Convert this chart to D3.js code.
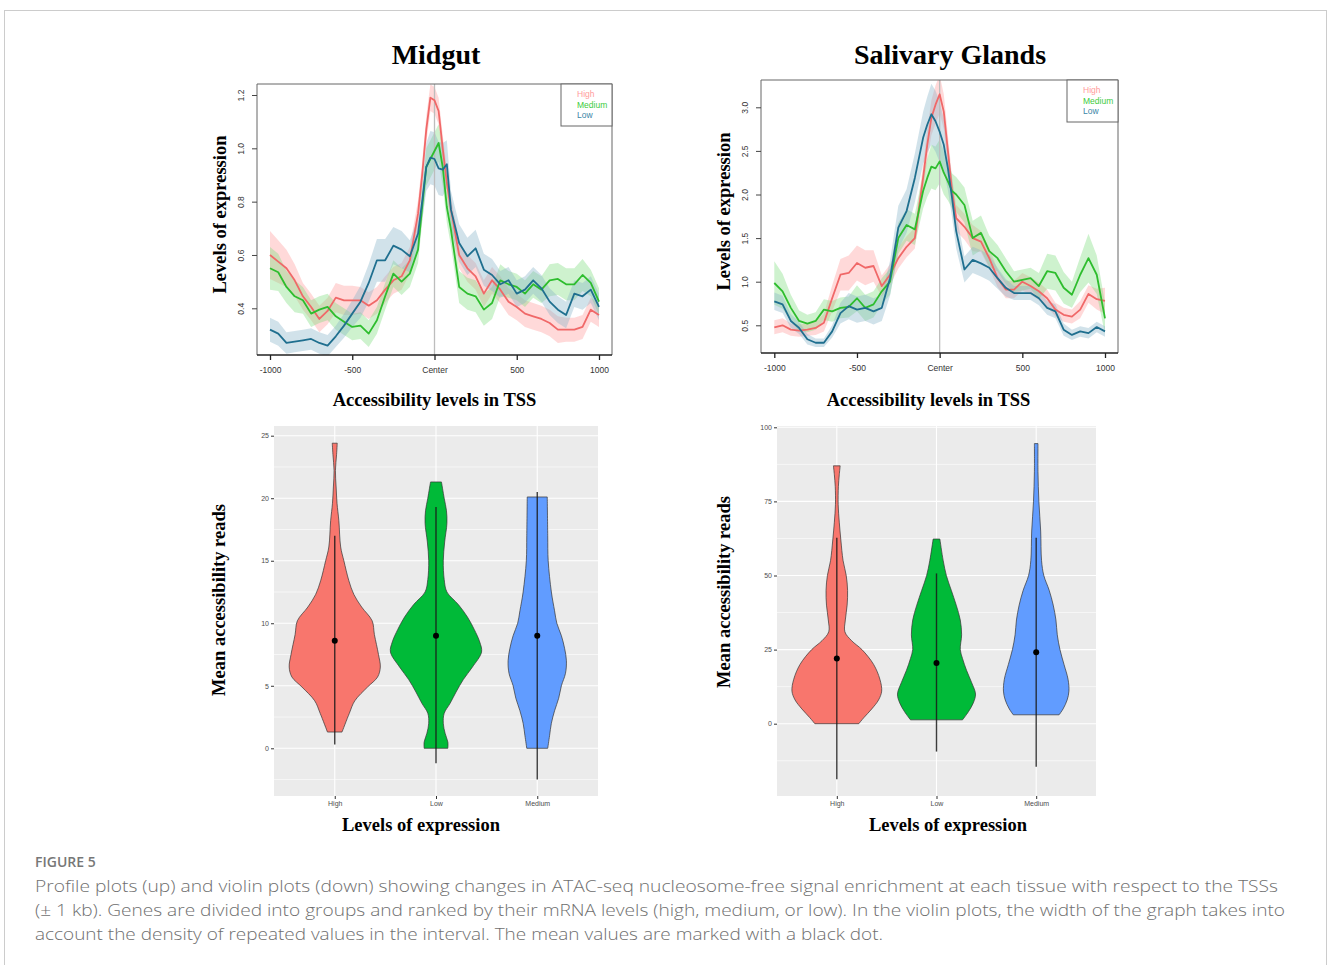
<!DOCTYPE html>
<html>
<head>
<meta charset="utf-8">
<script src="https://cdn.jsdelivr.net/npm/d3@7"></script>
<style>
  body { margin: 0; background: #fff; }
  svg { display: block; }
</style>
</head>
<body>
<svg id="fig" width="1328" height="965"></svg>
<script>
// ---- profile plots: positions relative to the TSS (bp)
const positions = [-1000,-950,-900,-850,-800,-750,-700,-650,-600,-550,-500,-450,-400,-350,-300,-250,-200,-150,-100,-75,-50,-25,0,25,50,75,100,150,200,250,300,350,400,450,500,550,600,650,700,750,800,850,900,950,1000]
const groups = ['High', 'Medium', 'Low']
const xTickValues = [-1000, -500, 0, 500, 1000]
const xTickLabels = ['-1000', '-500', 'Center', '500', '1000']

// Midgut
const midgutHigh = [0.60,0.575,0.55,0.505,0.445,0.405,0.36,0.39,0.44,0.43,0.43,0.43,0.41,0.43,0.47,0.505,0.52,0.58,0.755,0.90,1.07,1.19,1.18,1.14,1.0,0.87,0.77,0.60,0.55,0.52,0.455,0.505,0.47,0.425,0.405,0.38,0.37,0.36,0.345,0.32,0.32,0.32,0.33,0.395,0.375]
const midgutMedium = [0.55,0.535,0.48,0.445,0.43,0.38,0.395,0.405,0.37,0.35,0.33,0.335,0.305,0.355,0.445,0.53,0.50,0.53,0.62,0.78,0.93,0.96,0.99,1.02,0.93,0.78,0.695,0.48,0.455,0.445,0.395,0.42,0.505,0.49,0.48,0.455,0.49,0.47,0.505,0.51,0.49,0.49,0.525,0.495,0.425]
const midgutLow = [0.32,0.305,0.27,0.275,0.28,0.285,0.27,0.26,0.295,0.335,0.38,0.425,0.495,0.58,0.58,0.635,0.62,0.595,0.68,0.80,0.93,0.965,0.96,0.925,0.92,0.94,0.77,0.645,0.595,0.625,0.545,0.525,0.49,0.505,0.455,0.47,0.505,0.475,0.425,0.395,0.375,0.455,0.445,0.47,0.405]
const midgutHighSpread = [0.09,0.08,0.07,0.06,0.05,0.05,0.05,0.05,0.055,0.055,0.055,0.05,0.05,0.05,0.05,0.05,0.05,0.05,0.05,0.05,0.05,0.05,0.05,0.05,0.05,0.05,0.05,0.05,0.05,0.05,0.05,0.05,0.05,0.05,0.05,0.05,0.05,0.05,0.05,0.05,0.045,0.045,0.045,0.045,0.045]
const midgutMediumSpread = [0.08,0.07,0.06,0.06,0.05,0.05,0.05,0.05,0.05,0.05,0.05,0.05,0.05,0.05,0.05,0.05,0.05,0.05,0.05,0.06,0.07,0.07,0.07,0.07,0.07,0.06,0.06,0.06,0.06,0.06,0.06,0.06,0.06,0.05,0.05,0.05,0.05,0.05,0.06,0.06,0.06,0.06,0.06,0.05,0.05]
const midgutLowSpread = [0.045,0.045,0.04,0.04,0.04,0.04,0.04,0.04,0.04,0.045,0.05,0.06,0.07,0.08,0.08,0.07,0.07,0.06,0.06,0.07,0.09,0.1,0.1,0.1,0.1,0.09,0.07,0.07,0.07,0.07,0.06,0.06,0.05,0.05,0.05,0.05,0.05,0.05,0.05,0.05,0.05,0.05,0.05,0.05,0.05]
const midgutYTicks = [0.4, 0.6, 0.8, 1.0, 1.2]

// Salivary glands
const salivaryHigh = [0.477,0.50,0.45,0.44,0.45,0.47,0.53,0.81,1.08,1.10,1.215,1.16,1.18,0.95,1.08,1.27,1.40,1.50,2.19,2.57,2.88,3.03,3.15,2.95,2.5,2.04,1.73,1.63,1.50,1.46,1.27,1.04,0.91,0.91,1.0,0.95,0.89,0.81,0.68,0.62,0.60,0.68,0.86,0.80,0.78]
const salivaryMedium = [0.985,0.89,0.70,0.55,0.52,0.55,0.68,0.66,0.70,0.71,0.81,0.70,0.74,0.89,1.0,1.5,1.65,1.6,2.04,2.19,2.32,2.30,2.38,2.25,2.15,2.04,2.0,1.88,1.5,1.56,1.35,1.27,1.12,1.0,1.02,1.04,0.95,1.12,1.10,0.93,0.85,1.08,1.27,1.08,0.58]
const salivaryLow = [0.775,0.74,0.55,0.47,0.34,0.30,0.30,0.43,0.64,0.72,0.68,0.70,0.66,0.70,1.04,1.62,1.81,2.19,2.65,2.80,2.92,2.84,2.72,2.57,2.30,1.96,1.58,1.14,1.25,1.21,1.16,1.04,0.93,0.87,0.87,0.87,0.81,0.70,0.66,0.45,0.39,0.43,0.41,0.48,0.43]
const salivaryHighSpread = [0.08,0.08,0.07,0.07,0.07,0.08,0.1,0.15,0.18,0.2,0.2,0.2,0.18,0.12,0.12,0.12,0.12,0.12,0.15,0.18,0.2,0.22,0.22,0.2,0.18,0.16,0.15,0.15,0.15,0.12,0.12,0.1,0.1,0.1,0.1,0.1,0.1,0.1,0.08,0.08,0.08,0.1,0.1,0.12,0.15]
const salivaryMediumSpread = [0.25,0.2,0.15,0.12,0.1,0.1,0.12,0.12,0.12,0.12,0.15,0.15,0.15,0.15,0.15,0.18,0.18,0.18,0.2,0.22,0.25,0.25,0.25,0.25,0.22,0.2,0.2,0.2,0.2,0.2,0.18,0.15,0.15,0.12,0.12,0.12,0.15,0.2,0.2,0.18,0.15,0.2,0.28,0.22,0.18]
const salivaryLowSpread = [0.1,0.1,0.08,0.07,0.06,0.05,0.05,0.07,0.12,0.15,0.15,0.15,0.15,0.15,0.2,0.25,0.25,0.28,0.3,0.32,0.35,0.35,0.35,0.3,0.25,0.22,0.2,0.15,0.15,0.15,0.15,0.12,0.1,0.08,0.08,0.08,0.08,0.08,0.08,0.07,0.06,0.06,0.06,0.06,0.06]
const salivaryYTicks = [0.5, 1.0, 1.5, 2.0, 2.5, 3.0]

// ---- violin plots: [value, relative density]
const violinCategories = ['High', 'Low', 'Medium']
const midgutViolinHigh = [[1.3,0.16],[2.8,0.32],[3.8,0.44],[4.9,0.72],[5.7,0.94],[6.5,1],[7.5,0.96],[9.1,0.87],[10.2,0.82],[11.3,0.59],[12.3,0.42],[13.4,0.31],[15,0.2],[16.1,0.13],[18.2,0.09],[19.6,0.05],[20.9,0.03],[22.2,0.015],[23.5,0.04],[24.4,0.055]]
const midgutViolinLow = [[0,0.26],[0.5,0.26],[1.2,0.2],[2,0.16],[2.8,0.18],[3.6,0.31],[4.5,0.44],[5.5,0.6],[6.5,0.8],[7.7,1],[8.5,0.96],[9.5,0.84],[10.5,0.69],[11.5,0.49],[12.5,0.24],[13.5,0.18],[15,0.16],[16.5,0.19],[18,0.24],[19,0.23],[20,0.18],[21.3,0.12]]
const midgutViolinMedium = [[0,0.23],[1,0.27],[2,0.31],[3,0.38],[4,0.47],[5,0.53],[6,0.62],[7,0.64],[8,0.6],[9,0.53],[10,0.43],[11,0.38],[12.5,0.31],[15,0.24],[17,0.23],[20.1,0.22]]
const midgutMeans = [8.6, 9.0, 9.0]
const midgutSdLow = [0.3, -1.2, -2.5]
const midgutSdHigh = [17.0, 19.3, 20.5]
const midgutViolinTicks = [0, 5, 10, 15, 20, 25]
const midgutViolinMinor = [-2.5, 2.5, 7.5, 12.5, 17.5, 22.5]

const salivaryViolinHigh = [[0,0.49],[2,0.6],[5,0.78],[8,0.93],[11,1],[15,0.96],[20,0.82],[25,0.56],[28,0.33],[31,0.18],[35,0.19],[40,0.23],[45,0.24],[50,0.21],[55,0.14],[62,0.09],[68,0.055],[74,0.03],[80,0.035],[84,0.055],[87,0.075]]
const salivaryViolinLow = [[1.3,0.58],[4,0.71],[7,0.82],[10,0.87],[14,0.78],[18,0.67],[22,0.58],[25,0.53],[30,0.56],[35,0.53],[40,0.44],[45,0.33],[50,0.22],[55,0.15],[62.3,0.075]]
const salivaryViolinMedium = [[3,0.51],[5,0.6],[8,0.69],[11,0.73],[15,0.71],[20,0.62],[25,0.53],[30,0.47],[35,0.44],[40,0.38],[45,0.29],[50,0.17],[55,0.12],[65,0.1],[75,0.06],[85,0.04],[94.5,0.04]]
const salivaryMeans = [22.0, 20.5, 24.1]
const salivarySdLow = [-18.7, -9.4, -14.5]
const salivarySdHigh = [62.7, 50.7, 62.7]
const salivaryViolinTicks = [0, 25, 50, 75, 100]
const salivaryViolinMinor = [-12.5, 12.5, 37.5, 62.5, 87.5]

const captionLines = [
	'Profile plots (up) and violin plots (down) showing changes in ATAC-seq nucleosome-free signal enrichment at each tissue with respect to the TSSs',
	'(\u00B1 1 kb). Genes are divided into groups and ranked by their mRNA levels (high, medium, or low). In the violin plots, the width of the graph takes into',
	'account the density of repeated values in the interval. The mean values are marked with a black dot.'
]

const lineColors = { High: '#f06868', Medium: '#2ebd2e', Low: '#1f6f8f' }
const bandColors = { High: '#ff9a9a', Medium: '#7ede7e', Low: '#86b4c8' }
const legendColors = { High: '#ff9c9c', Medium: '#3ccc3c', Low: '#3a86a6' }
const violinColors = ['#F8766D', '#00BA38', '#619CFF']

const serif = '"Liberation Serif", "Times New Roman", serif'
const sans = '"Liberation Sans", Arial, sans-serif'

const svg = d3.select('#fig')

// outer frame
svg.append('rect')
	.attr('x', 4.5).attr('y', 10.5)
	.attr('width', 1322).attr('height', 980)
	.attr('fill', 'none')
	.attr('stroke', '#cccccc')

function drawProfile(cfg) {
	const g = svg.append('g')
	const x = d3.scaleLinear().domain([-1000, 1000]).range(cfg.xRange)
	const y = d3.scaleLinear().domain(cfg.yDomain).range(cfg.yRange)
	const b = cfg.box

	const clipId = 'clip-' + cfg.id
	g.append('clipPath').attr('id', clipId)
		.append('rect')
		.attr('x', b.left).attr('y', b.top)
		.attr('width', b.right - b.left).attr('height', b.bottom - b.top)

	const plot = g.append('g').attr('clip-path', `url(#${clipId})`)

	const area = d3.area()
		.x((d, i) => x(positions[i]))
		.y0(d => y(d[0] - d[1]))
		.y1(d => y(d[0] + d[1]))
	const line = d3.line()
		.x((d, i) => x(positions[i]))
		.y(d => y(d))

	groups.forEach(key => {
		const vals = cfg.series[key]
		const spread = cfg.spread[key]
		plot.append('path')
			.datum(vals.map((v, i) => [v, spread[i]]))
			.attr('d', area)
			.attr('fill', bandColors[key])
			.attr('fill-opacity', 0.38)
	})

	// TSS line
	plot.append('line')
		.attr('x1', x(0)).attr('x2', x(0))
		.attr('y1', b.top).attr('y2', b.bottom)
		.attr('stroke', '#bdbdbd')
		.attr('stroke-width', 1.3)

	groups.forEach(key => {
		plot.append('path')
			.datum(cfg.series[key])
			.attr('d', line)
			.attr('fill', 'none')
			.attr('stroke', lineColors[key])
			.attr('stroke-width', 1.8)
			.attr('stroke-linejoin', 'round')
	})

	// box
	g.append('path')
		.attr('d', `M${b.left},${b.bottom}V${b.top}H${b.right}V${b.bottom}`)
		.attr('fill', 'none')
		.attr('stroke', '#666')
		.attr('stroke-width', 1)
	g.append('line')
		.attr('x1', b.left).attr('x2', b.right)
		.attr('y1', b.bottom).attr('y2', b.bottom)
		.attr('stroke', '#222')
		.attr('stroke-width', 1.5)

	// x axis
	const xAxis = d3.axisBottom(x)
		.tickValues(xTickValues)
		.tickFormat((d, i) => xTickLabels[i])
		.tickSize(5)
		.tickPadding(7)
	const xg = g.append('g')
		.attr('transform', `translate(0,${b.bottom})`)
		.call(xAxis)
	xg.select('.domain').remove()
	xg.selectAll('line').attr('stroke', '#222').attr('stroke-width', 1.3)
	xg.selectAll('text')
		.attr('font-family', sans).attr('font-size', 8.5).attr('fill', '#333')

	// y axis
	const yAxis = d3.axisLeft(y)
		.tickValues(cfg.yTicks)
		.tickFormat(d3.format('.1f'))
		.tickSize(5)
	const yg = g.append('g')
		.attr('transform', `translate(${b.left},0)`)
		.call(yAxis)
	yg.select('.domain').remove()
	yg.selectAll('line').attr('stroke', '#444')
	yg.selectAll('text')
		.attr('font-family', sans).attr('font-size', 8.5).attr('fill', '#333')
		.attr('transform', 'rotate(-90)')
		.attr('x', 0).attr('y', -13).attr('dy', 0)
		.attr('text-anchor', 'middle')

	// legend
	const lw = 51, lh = 42
	const lg = g.append('g').attr('transform', `translate(${b.right - lw},${b.top})`)
	lg.append('rect')
		.attr('width', lw).attr('height', lh)
		.attr('fill', '#fff')
		.attr('stroke', '#666')
	lg.selectAll('text')
		.data(groups)
		.join('text')
		.attr('x', 16)
		.attr('y', (d, i) => 13 + i * 10.5)
		.attr('font-family', sans)
		.attr('font-size', 8.5)
		.attr('fill', d => legendColors[d])
		.text(d => d)

	// titles
	g.append('text')
		.attr('x', cfg.titleX).attr('y', 64)
		.attr('text-anchor', 'middle')
		.attr('font-family', serif).attr('font-weight', 'bold')
		.attr('font-size', 28)
		.text(cfg.title)
	g.append('text')
		.attr('x', cfg.xLabelX).attr('y', 406)
		.attr('text-anchor', 'middle')
		.attr('font-family', serif).attr('font-weight', 'bold')
		.attr('font-size', 18.5)
		.text('Accessibility levels in TSS')
	g.append('text')
		.attr('transform', `translate(${cfg.yLabelX},${(b.top + b.bottom) / 2 - 5}) rotate(-90)`)
		.attr('text-anchor', 'middle')
		.attr('font-family', serif).attr('font-weight', 'bold')
		.attr('font-size', 18.5)
		.text('Levels of expression')
}

function drawViolin(cfg) {
	const g = svg.append('g')
	const x = d3.scaleLinear().domain([0.4, 3.6]).range([cfg.left, cfg.right])
	const y = d3.scaleLinear().domain(cfg.yDomain).range(cfg.yRange)
	const w = d3.scaleLinear().domain([0, 1]).range([0, 0.45 * (x(2) - x(1))])

	g.append('rect')
		.attr('x', cfg.left).attr('y', cfg.top)
		.attr('width', cfg.right - cfg.left).attr('height', cfg.bottom - cfg.top)
		.attr('fill', '#ebebeb')

	g.selectAll('.minor')
		.data(cfg.minor)
		.join('line')
		.attr('x1', cfg.left).attr('x2', cfg.right)
		.attr('y1', d => y(d)).attr('y2', d => y(d))
		.attr('stroke', '#fff').attr('stroke-width', 0.6)
	g.selectAll('.major')
		.data(cfg.ticks)
		.join('line')
		.attr('x1', cfg.left).attr('x2', cfg.right)
		.attr('y1', d => y(d)).attr('y2', d => y(d))
		.attr('stroke', '#fff').attr('stroke-width', 1.1)
	g.selectAll('.vgrid')
		.data(violinCategories)
		.join('line')
		.attr('x1', (d, i) => x(i + 1)).attr('x2', (d, i) => x(i + 1))
		.attr('y1', cfg.top).attr('y2', cfg.bottom)
		.attr('stroke', '#fff').attr('stroke-width', 1.1)

	cfg.violins.forEach((shape, i) => {
		const cx = x(i + 1)
		const area = d3.area()
			.curve(d3.curveCatmullRom.alpha(0.5))
			.y(d => y(d[0]))
			.x0(d => cx - w(d[1]))
			.x1(d => cx + w(d[1]))
		g.append('path')
			.datum(shape)
			.attr('d', area)
			.attr('fill', violinColors[i])
			.attr('stroke', '#333')
			.attr('stroke-width', 0.7)
	})

	// mean +/- sd
	g.selectAll('.sd')
		.data(violinCategories)
		.join('line')
		.attr('x1', (d, i) => x(i + 1)).attr('x2', (d, i) => x(i + 1))
		.attr('y1', (d, i) => y(cfg.sdLow[i]))
		.attr('y2', (d, i) => y(cfg.sdHigh[i]))
		.attr('stroke', '#1a1a1a')
		.attr('stroke-opacity', 0.85)
		.attr('stroke-width', 1.4)
	g.selectAll('.mean')
		.data(violinCategories)
		.join('circle')
		.attr('cx', (d, i) => x(i + 1))
		.attr('cy', (d, i) => y(cfg.means[i]))
		.attr('r', 3)
		.attr('fill', '#000')

	const yAxis = d3.axisLeft(y).tickValues(cfg.ticks).tickSize(3).tickPadding(2)
	const yg = g.append('g').attr('transform', `translate(${cfg.left},0)`).call(yAxis)
	yg.select('.domain').remove()
	yg.selectAll('line').attr('stroke', '#333')
	yg.selectAll('text').attr('font-family', sans).attr('font-size', 7).attr('fill', '#4d4d4d')

	const xAxis = d3.axisBottom(x)
		.tickValues([1, 2, 3])
		.tickFormat((d, i) => violinCategories[i])
		.tickSize(3).tickPadding(2)
	const xg = g.append('g').attr('transform', `translate(0,${cfg.bottom})`).call(xAxis)
	xg.select('.domain').remove()
	xg.selectAll('line').attr('stroke', '#333')
	xg.selectAll('text').attr('font-family', sans).attr('font-size', 7).attr('fill', '#4d4d4d')

	g.append('text')
		.attr('x', cfg.xLabelX).attr('y', 831)
		.attr('text-anchor', 'middle')
		.attr('font-family', serif).attr('font-weight', 'bold')
		.attr('font-size', 18.5)
		.text('Levels of expression')
	g.append('text')
		.attr('transform', `translate(${cfg.yLabelX},${cfg.yLabelY}) rotate(-90)`)
		.attr('text-anchor', 'middle')
		.attr('font-family', serif).attr('font-weight', 'bold')
		.attr('font-size', 18.5)
		.text('Mean accessibility reads')
}

drawProfile({
	id: 'midgut',
	title: 'Midgut',
	titleX: 436,
	xLabelX: 434.5,
	yLabelX: 226,
	xRange: [270, 599],
	yDomain: [0.4, 1.2],
	yRange: [308.3, 95],
	yTicks: midgutYTicks,
	box: { left: 257, top: 84, right: 612, bottom: 355 },
	series: { High: midgutHigh, Medium: midgutMedium, Low: midgutLow },
	spread: { High: midgutHighSpread, Medium: midgutMediumSpread, Low: midgutLowSpread }
})

drawProfile({
	id: 'salivary',
	title: 'Salivary Glands',
	titleX: 950,
	xLabelX: 928.5,
	yLabelX: 730,
	xRange: [774.3, 1105],
	yDomain: [0.5, 3.0],
	yRange: [325.3, 107.3],
	yTicks: salivaryYTicks,
	box: { left: 761, top: 80, right: 1118, bottom: 353 },
	series: { High: salivaryHigh, Medium: salivaryMedium, Low: salivaryLow },
	spread: { High: salivaryHighSpread, Medium: salivaryMediumSpread, Low: salivaryLowSpread }
})

drawViolin({
	left: 274, right: 598, top: 426, bottom: 796,
	yDomain: [0, 25], yRange: [748.3, 435.7],
	ticks: midgutViolinTicks, minor: midgutViolinMinor,
	violins: [midgutViolinHigh, midgutViolinLow, midgutViolinMedium],
	means: midgutMeans, sdLow: midgutSdLow, sdHigh: midgutSdHigh,
	xLabelX: 421, yLabelX: 225, yLabelY: 600
})

drawViolin({
	left: 777, right: 1096, top: 426, bottom: 796,
	yDomain: [0, 100], yRange: [723.7, 427.3],
	ticks: salivaryViolinTicks, minor: salivaryViolinMinor,
	violins: [salivaryViolinHigh, salivaryViolinLow, salivaryViolinMedium],
	means: salivaryMeans, sdLow: salivarySdLow, sdHigh: salivarySdHigh,
	xLabelX: 948, yLabelX: 730, yLabelY: 592
})

// caption
svg.append('text')
	.attr('x', 35).attr('y', 867)
	.attr('font-family', '"Open Sans", sans-serif')
	.attr('font-weight', 600)
	.attr('font-size', 14)
	.attr('fill', '#777')
	.text('FIGURE 5')

const captionWidths = [1243, 1250, 848]
svg.append('g').selectAll('text')
	.data(captionLines)
	.join('text')
	.attr('x', 35)
	.attr('y', (d, i) => 892 + i * 24)
	.attr('font-family', '"Open Sans", sans-serif')
	.attr('font-weight', 300)
	.attr('font-size', 16.5)
	.attr('fill', '#6f6f6f')
	.attr('textLength', (d, i) => captionWidths[i])
	.attr('lengthAdjust', 'spacingAndGlyphs')
	.text(d => d)
</script>
</body>
</html>
